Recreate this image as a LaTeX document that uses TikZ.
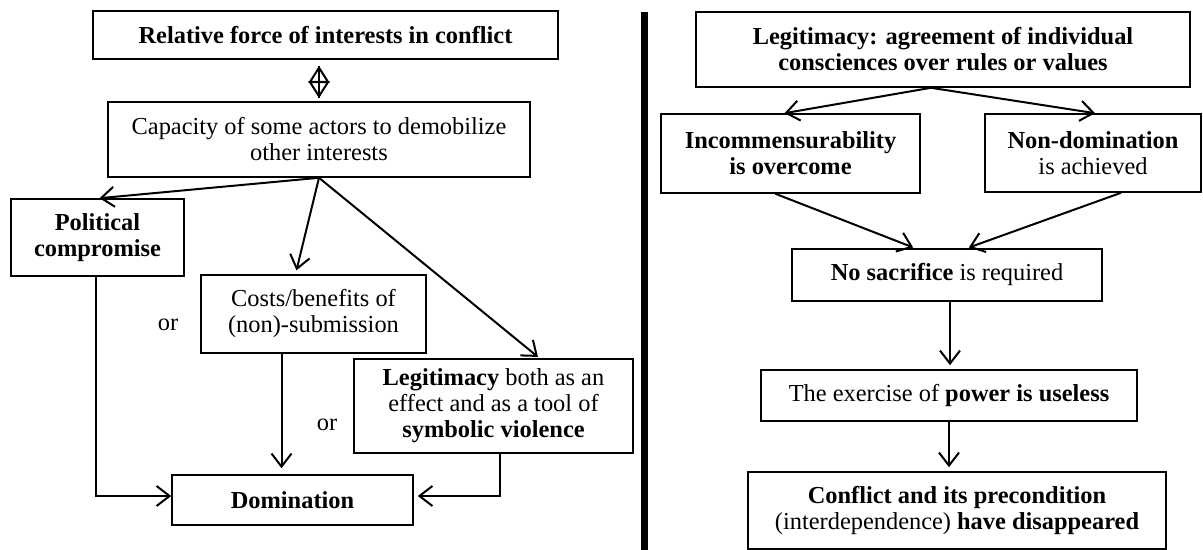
\documentclass[tikz,border=0pt]{standalone}
\usepackage{fontspec}
\setmainfont{Liberation Serif}
\usetikzlibrary{arrows.meta,positioning}

\begin{document}
\begin{tikzpicture}
[x=0.5pt,y=-0.5pt,->,>={Straight Barb[length=6.5pt,width=10pt]},line width=1pt,
  flow node/.style={draw,line width=0.8pt,inner sep=0pt,align=center,font=\fontsize{12.2}{13}\selectfont},
  or node/.style={font=\fontsize{12.2}{13}\selectfont},
  both way/.style={{Triangle[open,length=8.5pt,width=10.5pt]}-{Triangle[open,length=8.5pt,width=10.5pt]}}]

  \useasboundingbox (0,0) rectangle (1203,550);

  % left side
  \node [flow node,minimum width=232.5pt,minimum height=24pt] (force) at (325.5,35) {\textbf{Relative force of interests in conflict}};
  \node [flow node,minimum width=211pt,minimum height=37.5pt] (capacity) at (319,139.5) {Capacity of some actors to demobilize\\other interests};
  \node [flow node,minimum width=86.5pt,minimum height=38.5pt] (compromise) at (97.5,237.5) {\textbf{Political}\\\textbf{compromise}};
  \node [flow node,minimum width=112.5pt,minimum height=39pt] (costs) at (313.5,314) {Costs/benefits of\\(non)-submission};
  \node [flow node,minimum width=139.5pt,minimum height=47pt] (legit) at (493.5,406) {\textbf{Legitimacy} both as an\\effect and as a tool of\\\textbf{symbolic violence}};
  \node [flow node,minimum width=120.5pt,minimum height=25pt] (domination) at (292.5,500) {\textbf{Domination}};
  \node [or node] (or1) at (168,325) {or};
  \node [or node] (or2) at (327,425) {or};

  \draw [-,shorten <=3pt,shorten >=1.5pt] (capacity.north |- force.south) -- (capacity.north);
  \draw [both way,shorten <=3pt,shorten >=1.5pt] (capacity.north |- force.south) -- (capacity.north);
  \draw (capacity.south) -- ([xshift=1pt]compromise.north);
  \draw [shorten >=2pt] (capacity.south) -- ([xshift=-9pt]costs.north);
  \draw [shorten >=1pt] (capacity.south) -- ([xshift=23pt]legit.north);
  \coordinate (costsout) at ([xshift=-16pt]costs.south);
  \draw [shorten >=3pt] (costsout) -- (costsout |- domination.north);
  \draw ([xshift=-1pt]compromise.south) |- ([yshift=2pt]domination.west);
  \draw [shorten >=2pt] ([xshift=3pt]legit.south) |- ([yshift=2pt]domination.east);

  % separator
  \draw [-,line width=3.5pt] (644.5,12) -- (644.5,550);

  % right side
  \node [flow node,minimum width=247pt,minimum height=37.5pt] (agreement) at (943,49.5) {\textbf{Legitimacy: agreement of individual}\\\textbf{consciences over rules or values}};
  \node [flow node,minimum width=129.5pt,minimum height=39.5pt] (incomm) at (790.5,153.5) {\textbf{Incommensurability}\\\textbf{is overcome}};
  \node [flow node,minimum width=108pt,minimum height=39pt] (nondom) at (1093,153) {\textbf{Non-domination}\\is achieved};
  \node [flow node,minimum width=155pt,minimum height=26pt] (nosac) at (947,275) {\textbf{No sacrifice} is required};
  \node [flow node,minimum width=188pt,minimum height=25.5pt] (power) at (949,395.5) {The exercise of \textbf{power is useless}};
  \node [flow node,minimum width=209pt,minimum height=38.5pt] (conflict) at (957,510.5) {\textbf{Conflict and its precondition}\\(interdependence) \textbf{have disappeared}};

  \draw ([xshift=-6pt]agreement.south) -- ([xshift=-3pt]incomm.north);
  \draw ([xshift=-6pt]agreement.south) -- ([xshift=1pt]nondom.north);
  \draw [shorten >=1pt] ([xshift=-7.5pt]incomm.south) -- ([xshift=-16pt]nosac.north);
  \draw [shorten >=1pt] ([xshift=14pt]nondom.south) -- ([xshift=10pt]nosac.north);
  \draw [shorten >=2pt] ([xshift=1.5pt]nosac.south) -- ([xshift=1.5pt]nosac.south |- power.north);
  \draw [shorten >=2pt] (power.south) -- (power.south |- conflict.north);

\end{tikzpicture}
\end{document}
